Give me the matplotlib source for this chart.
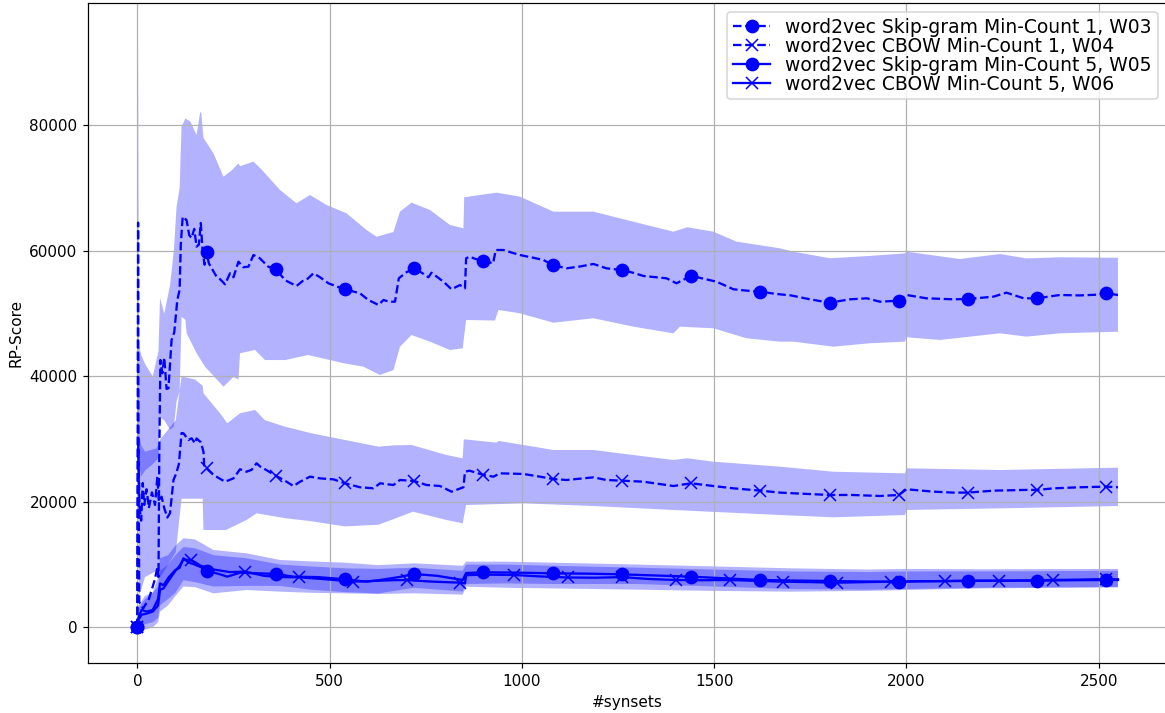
import matplotlib
matplotlib.use("Agg")
import matplotlib.pyplot as plt
import numpy as np

# running mean of the RP-score per model (x = number of synsets seen)
w03_x = [0, 2, 3, 5, 15, 30, 45, 52, 55, 57, 60, 65, 70, 76, 81, 89, 96, 104, 110, 113, 118, 128, 135, 141, 148, 154, 160, 165, 170, 175,
         180, 186, 206, 215, 228, 241, 250, 263, 275, 289, 302, 318, 340, 360, 385, 414, 430, 440, 458, 475, 497, 520, 540, 579, 600,
         627, 640, 655, 670, 680, 700, 720, 740, 757, 765, 796, 817, 839, 852, 855, 864, 880, 900, 925, 932, 952, 975, 995, 1030,
         1056, 1080, 1116, 1150, 1186, 1220, 1260, 1290, 1316, 1376, 1402, 1420, 1440, 1470, 1506, 1550, 1585, 1620, 1662, 1700,
         1749, 1800, 1853, 1897, 1931, 1980, 2000, 2052, 2122, 2160, 2226, 2260, 2305, 2340, 2399, 2450, 2490, 2520, 2550]
w03_y = [0, 64500, 30000, 4000, 3000, 4500, 7500, 9500, 8000, 27000, 42600, 40500, 43000, 38000, 38100, 45800, 47000, 52200, 53800,
         61000, 65450, 64900, 62500, 62050, 63500, 60670, 61000, 64440, 59660, 57800,
         59770, 58000, 55890, 55500, 54670, 56420, 55800, 58280, 57400, 57480, 59340, 58850, 57500, 57060, 55300, 54400, 55200,
         55400, 56430, 55800, 54830, 54300, 53880, 53240, 52200,
         51380, 52170, 51900, 51900, 55630, 56600, 57200, 56500, 55790, 56520, 55090, 53880, 54560, 54040, 58820, 59070, 58700,
         58440, 58000, 60140, 60140, 59700, 59340, 58900,
         58550, 57750, 57220, 57500, 57910, 57220, 56950, 56500, 56000, 55630, 54830, 55400, 56000, 55600, 55090, 53880, 53660,
         53500, 53130, 52900,
         52280, 51740, 52280, 52440, 51900, 52060, 52970, 52440, 52280, 52330, 52700, 53340, 52440, 52440, 52970, 52900, 53000,
         53240, 52970]

w04_x = [0, 2, 4, 6, 10, 14, 18, 24, 30, 38, 46, 52, 56, 63, 70, 78, 85, 94, 101, 108, 115, 120, 133, 141, 150, 154, 165, 172, 174,
         180, 198, 228, 250, 267, 284, 297, 310, 320, 335, 360, 388, 406, 423, 449, 475, 510, 540, 579, 614, 631, 666, 683, 720,
         752, 787, 817, 848, 852, 864, 900, 926, 943, 1004, 1047, 1080, 1116, 1186, 1220, 1260, 1316, 1394, 1440, 1498, 1550,
         1620, 1671, 1706, 1800, 1860, 1931, 1980, 2000, 2070, 2122, 2160, 2226, 2312, 2340, 2382, 2451, 2520, 2550]
w04_y = [0, 30000, 24000, 19000, 17000, 23000, 19500, 22000, 19000, 21500, 19500, 24000, 20000, 20820, 19000, 17500, 18200, 23480,
         24500, 26000, 30970, 30920, 29860, 30130, 29330, 30100, 29500, 27990, 25600,
         25340, 24280, 23210, 23740, 25190, 24800, 25100, 26140, 25600, 25080, 24170, 23210, 22510, 23200, 24010, 23740, 23580,
         22950, 22320, 22160, 22950, 22680, 23480, 23320,
         22680, 22520, 21620, 22320, 24800, 24960, 24280, 24010, 24540, 24440, 24010, 23640, 23480, 23900, 23480, 23370, 23210,
         22520, 22950, 22520, 22150,
         21780, 21470, 21360, 21090, 21090, 20930, 21090, 22000, 21620, 21470, 21470, 21780, 21900, 21890, 22150, 22320, 22420,
         22320]

w05_x = [0, 3, 11, 25, 40, 54, 59, 68, 82, 99, 110, 120, 133, 150, 165, 180, 215, 234, 267, 320, 360, 406, 470, 540, 596, 631, 680,
         720, 780, 846, 855, 900, 1000, 1080, 1170, 1260, 1350, 1440, 1530, 1620, 1710, 1800, 1890, 1980, 2070, 2160, 2250, 2340,
         2430, 2520, 2550]
w05_y = [0, 1500, 2760, 2500, 2760, 4500, 7000, 6700, 8000, 9130, 9500, 11000, 10330, 10000, 9600, 9020, 8450, 8070, 8700, 8600,
         8500, 8070, 8000, 7650, 7270, 7540, 8000, 8500, 8200, 7540, 8650, 8770, 8700, 8600, 8550, 8440, 8250, 8070, 7800, 7540,
         7450, 7380, 7300, 7270, 7350, 7430, 7430, 7430, 7500, 7540, 7540]

w06_x = [0, 3, 11, 25, 40, 54, 59, 68, 82, 99, 110, 120, 140, 165, 200, 240, 280, 330, 380, 420, 480, 520, 560, 620, 660, 700, 760,
         800, 840, 852, 855, 900, 980, 1050, 1120, 1190, 1260, 1330, 1400, 1470, 1540, 1610, 1680, 1750, 1820, 1890, 1960, 2030,
         2100, 2170, 2240, 2310, 2380, 2450, 2520, 2550]
w06_y = [0, 1200, 2000, 2200, 2500, 3500, 6000, 6200, 7500, 9000, 9800, 10800, 10730, 9800, 9200, 8800, 8870, 8200, 8000, 7970,
         7700, 7500, 7270, 7400, 7500, 7540, 7300, 7200, 7110, 7000, 8300, 8400, 8340, 8100, 7940, 7900, 8000, 7700, 7540, 7500,
         7540, 7400, 7270, 7200, 7110, 7200, 7270, 7350, 7350, 7400, 7430, 7480, 7540, 7600, 7700, 7650]

# upper / lower edges of the spread around each mean
w03_up_x = [0, 2, 4, 10, 20, 40, 55, 59, 70, 85, 95, 102, 110, 115, 125, 138, 154, 163, 166, 172, 198, 224, 245, 263, 267, 302, 320,
            371, 414, 449, 492, 544, 596, 622, 666, 683, 713, 761, 813, 848, 850, 934, 995, 1082, 1186, 1290, 1394, 1430, 1498,
            1558, 1671, 1706, 1801, 1904, 1996, 2000, 2139, 2243, 2312, 2399, 2550]
w03_up = [0, 95000, 45000, 43400, 42000, 40000, 44000, 52500, 50000, 54500, 60000, 67000, 70000, 79800, 81100, 80600, 78470, 81930,
          82200, 78000, 75560, 71830, 72800, 73960, 73500, 74220, 73170,
          69710, 67590, 68910, 67320, 65990, 63330, 62260, 63000, 66250, 67690, 66520, 64130, 63600, 68540, 69280, 68640, 66250,
          66250, 64650, 63060, 63760, 63060,
          61470, 60410, 59870, 58820, 59190, 59600, 59870, 58700, 59500, 58800, 58980, 58900]
w03_lo_x = [0, 2, 4, 10, 20, 40, 55, 59, 70, 85, 95, 102, 110, 115, 125, 128, 154, 176, 224, 250, 263, 267, 306, 332, 384, 444, 501,
            536, 588, 631, 666, 683, 713, 761, 813, 846, 855, 930, 939, 995, 1082, 1186, 1290, 1394, 1411, 1498, 1584, 1671, 1706,
            1810, 1904, 1996, 2000, 2087, 2243, 2312, 2399, 2550]
w03_lo = [0, 34000, 26000, 24000, 25000, 26000, 27000, 33500, 33000, 31500, 32000, 36000, 37600, 49500, 49000, 46900, 43700, 41540,
          38350, 39900, 39500, 43680, 44200, 42600, 42600, 43400, 42600,
          42100, 41540, 40220, 41000, 44730, 46590, 45530, 44200, 44470, 48980, 48900, 50580, 50050, 48550, 49260, 47920, 46860,
          47920, 47660, 46070, 45530, 45530,
          44730, 45270, 45530, 46230, 45800, 46860, 46330, 46860, 47120]

w04_up_x = [0, 2, 4, 10, 20, 50, 60, 100, 115, 150, 170, 172, 215, 234, 267, 306, 332, 384, 453, 540, 627, 666, 713, 804, 846, 849,
            934, 940, 1004, 1082, 1186, 1290, 1394, 1430, 1498, 1671, 1810, 1996, 2000, 2243, 2550]
w04_up = [0, 40000, 31000, 29000, 28000, 28500, 30000, 33000, 40000, 39500, 38500, 37300, 34110, 32520, 34110, 34640, 33000, 31980,
          30920, 29860, 28790, 29000, 29060, 27460, 26940, 29970,
          29430, 29700, 29060, 28260, 28260, 27460, 26670, 26940, 26400, 25600, 24800, 24540, 25340, 25070, 25440]
w04_lo_x = [0, 2, 4, 10, 20, 50, 60, 100, 115, 170, 172, 230, 284, 310, 384, 453, 540, 627, 660, 717, 804, 846, 855, 1004, 1186,
            1394, 1671, 1810, 1996, 2000, 2243, 2550]
w04_lo = [0, 20000, 5000, 6000, 8000, 9000, 8000, 12000, 20500, 20500, 15510, 15500, 17100, 18170, 17400, 16900, 16080, 16350,
          17100, 18430, 17100, 16580, 19490, 19760, 19330,
          18700, 17900, 17530, 17900, 18700, 18960, 19330]

w05_band_x = [0, 3, 20, 40, 54, 59, 80, 99, 120, 150, 198, 284, 371, 450, 540, 627, 720, 846, 855, 960, 1080, 1300, 1500, 1700,
              1900, 2000, 2200, 2550]
w05_up = [0, 3500, 5000, 5500, 8000, 11000, 11500, 13000, 14190, 14000, 12320, 11790, 10730, 10500, 10300, 9900, 10200, 9800, 10460,
          10460, 10300, 10000, 9700, 9400, 9200, 9300, 9250, 9300]
w05_lo = [0, -300, 500, 800, 1500, 3500, 4500, 5500, 7500, 7200, 6500, 6600, 6600, 6000, 5600, 5400, 6300, 5700, 6900, 7000, 6900,
          6900, 6500, 6100, 6000, 6100, 6300, 6400]
w06_up = [0, 3000, 4500, 5500, 6500, 9000, 10000, 11500, 12800, 12600, 11500, 11000, 10000, 9700, 9400, 9300, 9500, 9000, 10000,
          10000, 9800, 9500, 9200, 8900, 8800, 8900, 8900, 9000]
w06_lo = [0, -600, -400, 0, 800, 2500, 3500, 5000, 6500, 6400, 5410, 5940, 5680, 5500, 5410, 5300, 5420, 5200, 6470, 6300, 6200,
          6000, 5800, 5680, 5800, 5950, 6200, 6380]

labels = ["word2vec Skip-gram Min-Count 1, W03", "word2vec CBOW Min-Count 1, W04",
          "word2vec Skip-gram Min-Count 5, W05", "word2vec CBOW Min-Count 5, W06"]


def band(ax, xu, up, xl, lo):
    px = np.concatenate([xu, xl[::-1]])
    py = np.concatenate([up, lo[::-1]])
    ax.fill(px, py, color="b", alpha=0.3, linewidth=0)


def marks(xs, step):
    return [i for i, v in enumerate(xs) if v % step == 0]


fig = plt.figure(figsize=(1165 / 110, 713 / 110), dpi=110)
ax = fig.add_axes([88.3 / 1165, 49.7 / 713, 1078.7 / 1165, 660.6 / 713])

band(ax, w03_up_x, w03_up, w03_lo_x, w03_lo)
band(ax, w04_up_x, w04_up, w04_lo_x, w04_lo)
band(ax, w05_band_x, w05_up, w05_band_x, w05_lo)
band(ax, w05_band_x, w06_up, w05_band_x, w06_lo)

ax.plot(w03_x, w03_y, "b--", marker="o", ms=8, markevery=marks(w03_x, 180), label=labels[0])
ax.plot(w04_x, w04_y, "b--", marker="x", ms=8, markevery=marks(w04_x, 180), label=labels[1])
ax.plot(w05_x, w05_y, "b-", marker="o", ms=8, markevery=marks(w05_x, 180), label=labels[2])
ax.plot(w06_x, w06_y, "b-", marker="x", ms=8, markevery=marks(w06_x, 140), label=labels[3])

ax.set_xlim(-127.5, 2677.5)
ax.set_ylim(-5740, 99560)
ax.set_xticks([0, 500, 1000, 1500, 2000, 2500])
ax.set_yticks([0, 20000, 40000, 60000, 80000])
ax.grid()
ax.set_xlabel("#synsets")
ax.set_ylabel("RP-Score")
ax.legend(loc="upper right", fontsize=12.3, handlelength=2, labelspacing=0.0, borderpad=0.3)

fig.savefig("out.png", dpi=110)
